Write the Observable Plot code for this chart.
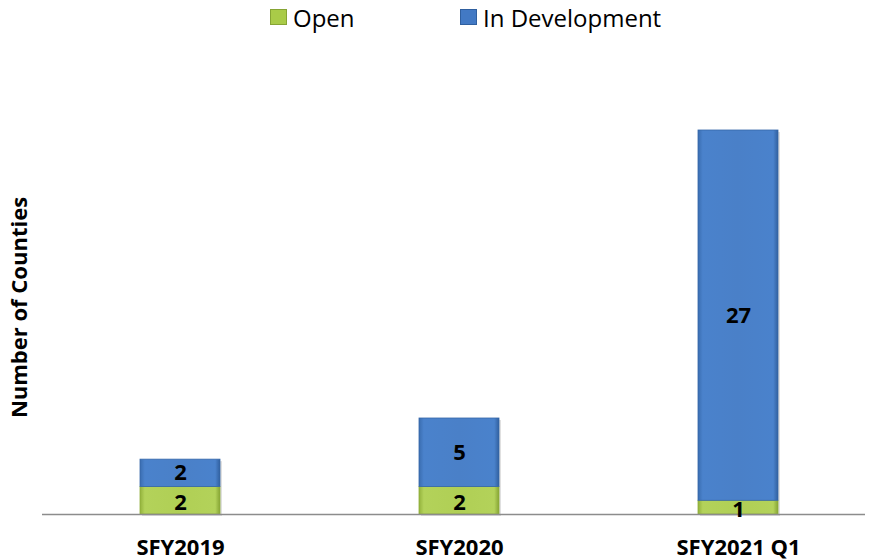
<!DOCTYPE html>
<html>
<head>
<meta charset="utf-8">
<script src="https://cdn.jsdelivr.net/npm/d3@7"></script>
<script src="https://cdn.jsdelivr.net/npm/@observablehq/plot@0.6"></script>
<style>
  html, body { margin: 0; padding: 0; background: #fff; }
  #wrap { position: relative; width: 870px; height: 560px; font-family: "Open Sans", sans-serif; }
  #legend { position: absolute; top: 0px; left: 0; width: 870px; height: 34px; font-size: 24px; color: #000; }
  .item { position: absolute; top: 0; display: flex; align-items: center; height: 34px; }
  .sw { width: 17px; height: 16px; margin-right: 6px; box-sizing: border-box; }
  #chart { position: absolute; top: 0; left: 0; }
</style>
</head>
<body>
<div id="wrap">
  <div id="chart"></div>
  <div id="legend"></div>
</div>
<script>
const categories = ["SFY2019", "SFY2020", "SFY2021 Q1"];
const openCounts = [2, 2, 1];
const devCounts = [2, 5, 27];
const seriesNames = ["Open", "In Development"];
const yLabel = "Number of Counties";

const rows = categories.map((c, i) => ({
  cat: c,
  open: openCounts[i],
  dev: devCounts[i],
  total: openCounts[i] + devCounts[i]
}));

const plot = Plot.plot({
  width: 870,
  height: 560,
  marginLeft: 42,
  marginRight: 5,
  marginTop: 100,
  marginBottom: 46,
  style: { fontFamily: "'Open Sans', sans-serif", background: "#fff", overflow: "visible" },
  x: { domain: categories, range: [140, 778], paddingInner: 0.715, paddingOuter: 0, axis: null },
  y: { domain: [0, 28], range: [514, 130], axis: null },
  marks: [
    // shadows
    Plot.rectY(rows, { x: "cat", y1: 0, y2: "total", fill: "#000", fillOpacity: 0.12, dx: 2, dy: 2 }),
    Plot.barY(rows, { x: "cat", y1: 0, y2: "open", fill: "url(#gGreen)", stroke: "#8fae3a", strokeWidth: 0.8 }),
    Plot.barY(rows, { x: "cat", y1: "open", y2: "total", fill: "url(#gBlue)", stroke: "#3566a8", strokeWidth: 0.8 }),
    Plot.ruleY([0], { stroke: "#8c8c8c", strokeWidth: 1.5 }),
    Plot.text(rows, { x: "cat", y: d => d.open / 2, text: d => String(d.open), fontSize: 22, fontWeight: "bold", fill: "#000", dy: 2 }),
    Plot.text(rows, { x: "cat", y: d => d.open + d.dev / 2, text: d => String(d.dev), fontSize: 22, fontWeight: "bold", fill: "#000", dy: 0 }),
    Plot.text(rows, { x: "cat", y: 0, text: "cat", fontSize: 22, fontWeight: "bold", fill: "#000", dy: 33 }),
    Plot.text([yLabel], { frameAnchor: "left", textAnchor: "middle", text: d => d, rotate: -90, dx: -23, fontSize: 22, fontWeight: "bold", fill: "#000" })
  ]
});

// gradient defs for bevel-like bars
const ns = "http://www.w3.org/2000/svg";
const defs = document.createElementNS(ns, "defs");
function grad(id, stops) {
  const g = document.createElementNS(ns, "linearGradient");
  g.setAttribute("id", id);
  g.setAttribute("x1", "0"); g.setAttribute("x2", "1");
  g.setAttribute("y1", "0"); g.setAttribute("y2", "0");
  stops.forEach(([o, c]) => {
    const s = document.createElementNS(ns, "stop");
    s.setAttribute("offset", o);
    s.setAttribute("stop-color", c);
    g.appendChild(s);
  });
  defs.appendChild(g);
}
grad("gBlue", [["0", "#3a6db0"], ["0.06", "#4a82cc"], ["0.5", "#4a80c8"], ["0.94", "#4a82cc"], ["1", "#31609f"]]);
grad("gGreen", [["0", "#93b23c"], ["0.06", "#b3d25a"], ["0.5", "#b0cf55"], ["0.94", "#b3d25a"], ["1", "#86a434"]]);
plot.insertBefore(defs, plot.firstChild);
document.getElementById("chart").appendChild(plot);

// legend
const legendColors = ["#a9cb48", "#4279c4"];
const legendBorders = ["#86a434", "#2f5f9f"];
const legendX = [270, 460];
const legend = document.getElementById("legend");
seriesNames.forEach((name, i) => {
  const it = document.createElement("div");
  it.className = "item";
  it.style.left = legendX[i] + "px";
  const sw = document.createElement("div");
  sw.className = "sw";
  sw.style.background = legendColors[i];
  sw.style.border = "1px solid " + legendBorders[i];
  const tx = document.createElement("span");
  tx.textContent = name;
  it.appendChild(sw);
  it.appendChild(tx);
  legend.appendChild(it);
});
</script>
</body>
</html>
